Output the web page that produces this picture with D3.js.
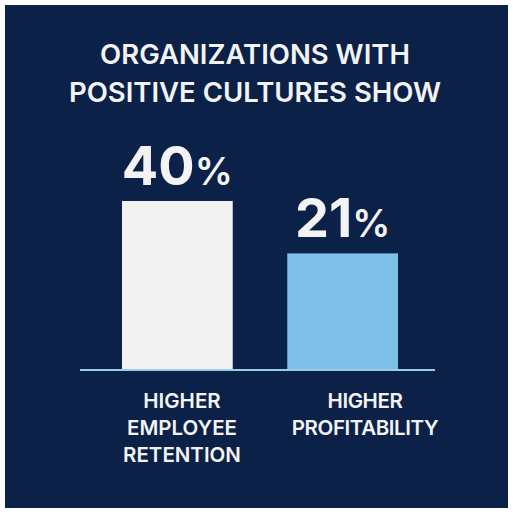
<!DOCTYPE html>
<html><head><meta charset="utf-8">
<script src="https://cdn.jsdelivr.net/npm/d3@7"></script>
<style>body{margin:0;background:#fff}</style>
</head><body>
<svg id="chart" width="513" height="514"></svg>
<script>
const categories = [['HIGHER', 'EMPLOYEE', 'RETENTION'], ['HIGHER', 'PROFITABILITY']];
const values = [40, 21];
const colors = ['#f3f3f4', '#7dbfe6'];
const titleLines = ['ORGANIZATIONS WITH', 'POSITIVE CULTURES SHOW'];

const svg = d3.select('#chart');
const font = 'Inter, "Noto Sans", sans-serif';
svg.append('rect').attr('x', 5).attr('y', 5).attr('width', 503).attr('height', 503).attr('fill', '#0b2147');

svg.selectAll('text.title').data(titleLines).join('text')
  .attr('x', 255).attr('y', (d, i) => 64 + i * 38)
  .attr('text-anchor', 'middle').attr('fill', '#f3f3f4')
  .attr('font-family', font).attr('font-size', 27.5).attr('font-weight', 600)
  .text((d) => d);

const x = d3.scaleBand().domain([0, 1]).range([122, 398]).paddingInner(0.33).paddingOuter(0);
const y = d3.scaleLinear().domain([-21.3, 40]).range([370, 201]);

svg.selectAll('rect.bar').data(values).join('rect')
  .attr('x', (d, i) => x(i)).attr('width', x.bandwidth())
  .attr('y', (d) => y(d)).attr('height', (d) => 370 - y(d))
  .attr('fill', (d, i) => colors[i]);

svg.append('line').attr('x1', 80).attr('x2', 435).attr('y1', 370).attr('y2', 370)
  .attr('stroke', '#9ccbe8').attr('stroke-width', 2);

const lab = svg.selectAll('text.val').data(values).join('text')
  .attr('x', (d, i) => x(i) + x.bandwidth() / 2).attr('y', (d) => y(d) - 16)
  .attr('text-anchor', 'middle').attr('fill', '#f3f3f4').attr('font-family', font).attr('font-weight', 700);
lab.append('tspan').attr('font-size', 54).text((d) => d);
lab.append('tspan').attr('font-size', 38).attr('font-weight', 600).text('%');

categories.forEach((lines, i) => {
  svg.selectAll(null).data(lines).join('text')
    .attr('x', [182, 365][i]).attr('y', (d, j) => 408 + j * 27)
    .attr('text-anchor', 'middle').attr('fill', '#f3f3f4')
    .attr('font-family', font).attr('font-size', 20.5).attr('font-weight', 600)
    .attr('letter-spacing', i ? -0.4 : 0)
    .text((d) => d);
});
</script></body></html>
